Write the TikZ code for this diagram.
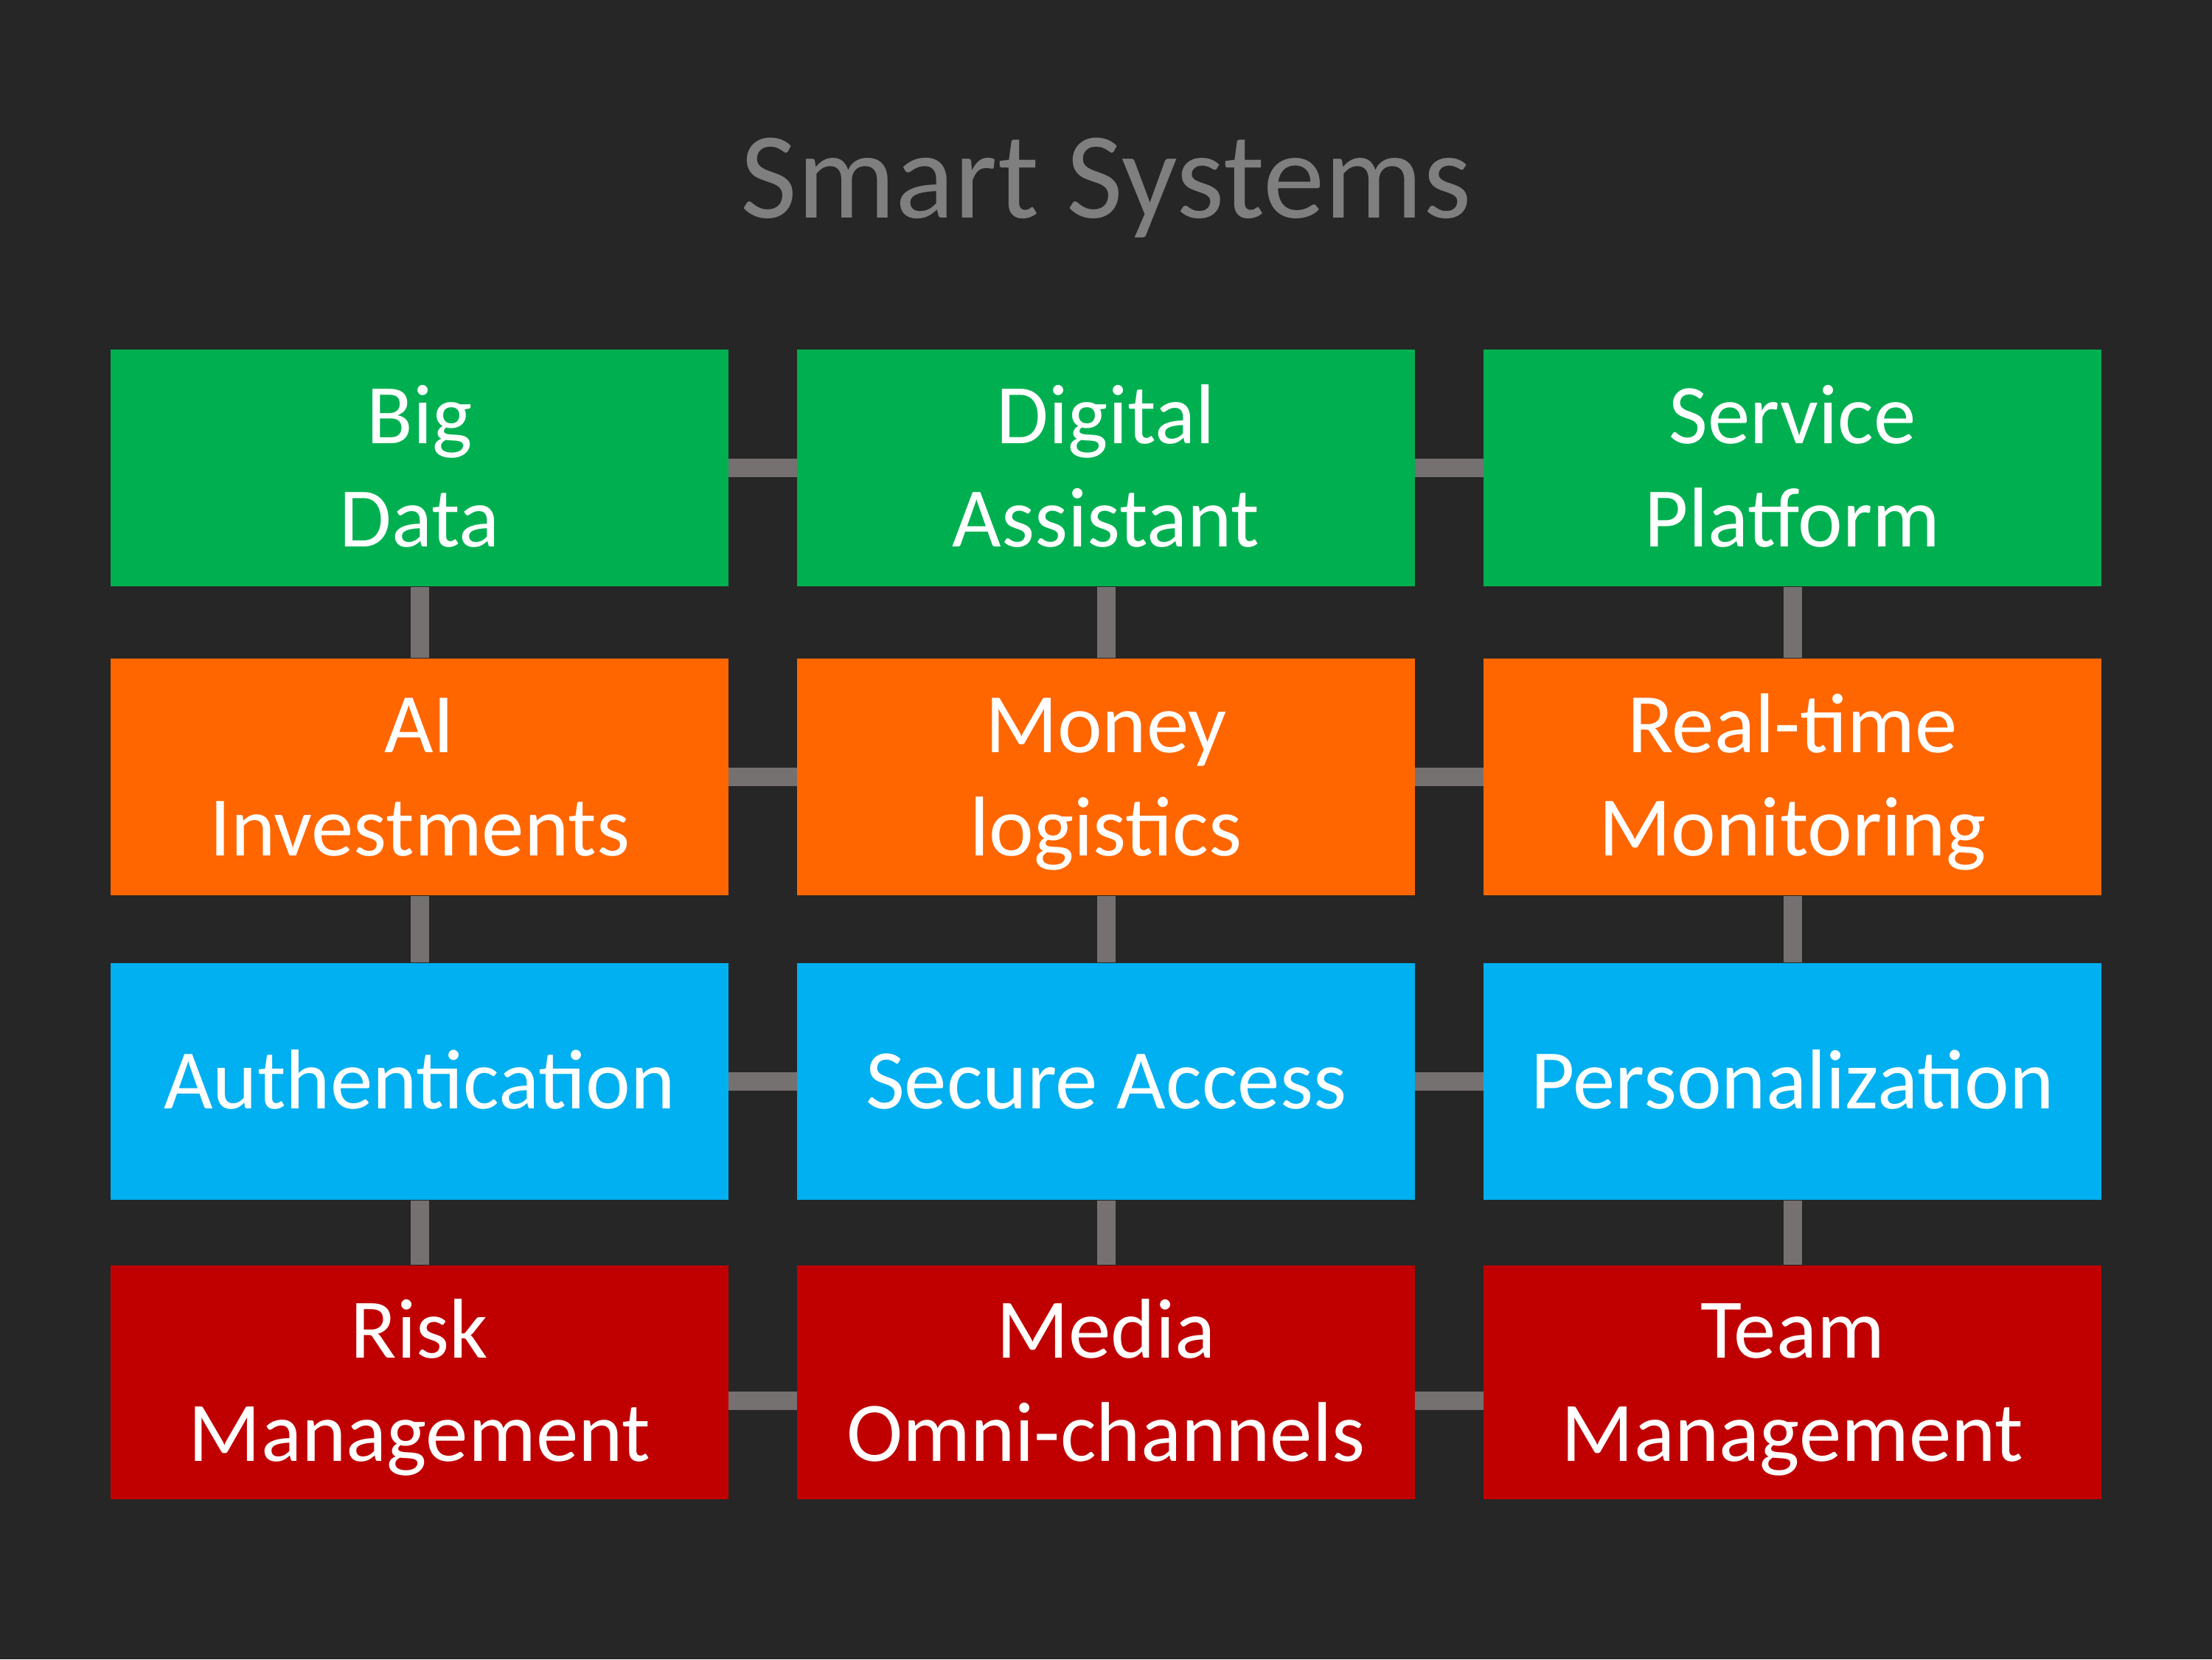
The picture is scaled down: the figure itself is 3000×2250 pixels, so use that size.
\documentclass[tikz,border=0pt]{standalone}
\usepackage{fontspec}
\setmainfont{Carlito}
\definecolor{bg}{HTML}{262626}
\definecolor{linkgray}{HTML}{767171}
\definecolor{titlegray}{HTML}{7F7F7F}
\definecolor{tgreen}{HTML}{00B050}
\definecolor{torange}{HTML}{FF6600}
\definecolor{tblue}{HTML}{00B0F0}
\definecolor{tred}{HTML}{C00000}
% one text line whose box is exactly cap height tall with no depth,
% so stacked lines centre on their capitals
\newcommand\capline[1]{\smash{#1}\rule{0pt}{0.644em}}
\tikzset{
  tile/.style={rectangle, inner sep=0pt, minimum width=8.37cm, minimum height=3.21cm,
    text=white, align=center, font=\fontsize{32.7}{39.9}\selectfont},
  link/.style={draw=linkgray, line width=0.25cm},
}
\begin{document}
\begin{tikzpicture}[x=0.01cm,y=-0.01cm]
  \fill[bg] (0,0) rectangle (3000,2250);
  \useasboundingbox (0,0) rectangle (3000,2250);

  \node[text=titlegray, inner sep=0pt, font=\fontsize{47.5}{57}\selectfont] (title) at (1500,242) {\capline{Smart Systems}};

  % row 1
  \node[tile, fill=tgreen] (bd) at (569,634.5) {\capline{Big}\\\capline{Data}};
  \node[tile, fill=tgreen] (da) at (1500,634.5) {\capline{Digital}\\\capline{Assistant}};
  \node[tile, fill=tgreen] (sp) at (2431,634.5) {\capline{Service}\\\capline{Platform}};
  % row 2
  \node[tile, fill=torange] (ai) at (569,1053.5) {\capline{AI}\\\capline{Investments}};
  \node[tile, fill=torange] (ml) at (1500,1053.5) {\capline{Money}\\\capline{logistics}};
  \node[tile, fill=torange] (rt) at (2431,1053.5) {\capline{Real-time}\\\capline{Monitoring}};
  % row 3
  \node[tile, fill=tblue] (au) at (569,1466.5) {\capline{Authentication}};
  \node[tile, fill=tblue] (sa) at (1500,1466.5) {\capline{Secure Access}};
  \node[tile, fill=tblue] (pe) at (2431,1466.5) {\capline{Personalization}};
  % row 4
  \node[tile, fill=tred, minimum height=3.17cm] (rm) at (569,1874.5) {\capline{Risk}\\\capline{Management}};
  \node[tile, fill=tred, minimum height=3.17cm] (mo) at (1500,1874.5) {\capline{Media}\\\capline{Omni-channels}};
  \node[tile, fill=tred, minimum height=3.17cm] (tm) at (2431,1874.5) {\capline{Team}\\\capline{Management}};

  % horizontal links
  \foreach \a/\b in {bd/da,da/sp,ai/ml,ml/rt,au/sa,sa/pe}
    \draw[link] (\a.east) -- (\b.west);
  % bottom row links sit a little below the tile centres
  \foreach \a/\b in {rm/mo,mo/tm}
    \draw[link] ([yshift=-0.25cm]\a.east) -- ([yshift=-0.25cm]\b.west);
  % vertical links
  \foreach \a/\b in {bd/ai,ai/au,au/rm,da/ml,ml/sa,sa/mo,sp/rt,rt/pe,pe/tm}
    \draw[link] (\a.south) -- (\b.north);
\end{tikzpicture}
\end{document}
